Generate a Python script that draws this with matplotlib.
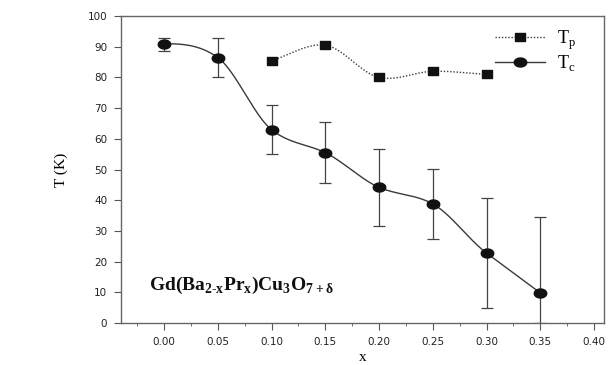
import numpy as np
import matplotlib.pyplot as plt
from matplotlib.ticker import MultipleLocator

plt.rcParams['font.family'] = ['Liberation Serif', 'DejaVu Serif']

x_tc = [0.00, 0.05, 0.10, 0.15, 0.20, 0.25, 0.30, 0.35]
tc = [91.0, 86.5, 63.0, 55.5, 44.2, 38.8, 22.8, 9.8]
tc_lo = [88.5, 80.0, 55.0, 45.6, 31.6, 27.4, 4.9, 0.0]
tc_hi = [93.0, 93.0, 71.0, 65.5, 56.7, 50.3, 40.7, 34.6]

x_tp = [0.10, 0.15, 0.20, 0.25, 0.30]
tp = [85.5, 90.5, 80.0, 82.0, 81.0]


def smooth(xs, ys, flat_start=False, tension=0.9, n=300):
    # cardinal cubic used only to draw the connecting curve
    xs = np.asarray(xs, float)
    ys = np.asarray(ys, float)
    h = np.diff(xs)
    d = np.diff(ys) / h
    m = np.zeros_like(ys)
    m[1:-1] = tension * (ys[2:] - ys[:-2]) / (xs[2:] - xs[:-2])
    m[0] = 0.0 if flat_start else d[0]
    m[-1] = d[-1]
    xx = np.linspace(xs[0], xs[-1], n)
    idx = np.clip(np.searchsorted(xs, xx) - 1, 0, len(h) - 1)
    t = (xx - xs[idx]) / h[idx]
    h00 = 2 * t**3 - 3 * t**2 + 1
    h10 = t**3 - 2 * t**2 + t
    h01 = -2 * t**3 + 3 * t**2
    h11 = t**3 - t**2
    yy = h00 * ys[idx] + h10 * h[idx] * m[idx] + h01 * ys[idx + 1] + h11 * h[idx] * m[idx + 1]
    return xx, yy


# slightly flattened markers, like the scanned figure
th = np.linspace(0, 2 * np.pi, 40)
oval = np.column_stack([np.cos(th), 0.72 * np.sin(th)])
rect = [(-1, -0.72), (1, -0.72), (1, 0.72), (-1, 0.72), (-1, -0.72)]

fig = plt.figure(figsize=(6.08, 3.65), dpi=100)
ax = fig.add_axes([0.199, 0.115, 0.794, 0.841])

col = '#111111'
lcol = '#3a3a3a'
dots = (0, (1.0, 1.3))

sx, sy = smooth(x_tc, tc, flat_start=True)
ax.plot(sx, sy, color=lcol, lw=1.0)
yerr = [np.array(tc) - np.array(tc_lo), np.array(tc_hi) - np.array(tc)]
ax.errorbar(x_tc, tc, yerr=yerr, fmt='none', ecolor='#444444', elinewidth=0.9, capsize=4.5, capthick=0.9)
ax.plot(x_tc, tc, ls='none', marker=oval, color=col, ms=9)

px, py = smooth(x_tp, tp)
ax.plot(px, py, color=lcol, lw=1.0, ls=dots)
ax.plot(x_tp, tp, ls='none', marker=rect, color=col, ms=7.5)

# legend entries
ax.plot([], [], color=lcol, lw=1.0, ls=dots, marker=rect, mfc=col, mec=col, ms=7.5, label='T$_\\mathregular{p}$')
ax.plot([], [], color=lcol, lw=1.0, marker=oval, mfc=col, mec=col, ms=9, label='T$_\\mathregular{c}$')
ax.legend(loc='upper left', frameon=False, fontsize=13, handlelength=2.8, handletextpad=0.65,
          borderpad=0, borderaxespad=0, bbox_to_anchor=(0.774, 0.96), labelspacing=0.1)

ax.text(-0.014, 12.4, 'Gd(Ba$_\\mathregular{2\u2010x}$Pr$_\\mathregular{x}$)Cu$_\\mathregular{3}$O$_\\mathregular{7+\\delta}$',
        fontsize=14, fontweight='bold', va='center', ha='left', color=col)

ax.set_xlim(-0.04, 0.409)
ax.set_ylim(0, 100)
ax.xaxis.set_minor_locator(MultipleLocator(0.025))
ax.yaxis.set_major_locator(MultipleLocator(10))
ax.set_xticks(np.arange(0, 0.401, 0.05))
ax.set_xticklabels([f'{v:.2f}' for v in np.arange(0, 0.401, 0.05)])
ax.tick_params(which='both', direction='out', top=False, right=False, color='#555555',
               labelsize=7.5, labelcolor='#222222', pad=5)
ax.tick_params(which='major', length=5)
ax.tick_params(which='minor', length=2.5)
for lab in ax.get_xticklabels() + ax.get_yticklabels():
    lab.set_family('DejaVu Sans')
for s in ax.spines.values():
    s.set_color('#666666')
    s.set_linewidth(1.0)

ax.set_xlabel('x', fontsize=11, labelpad=3)
ax.set_ylabel('T (K)', fontsize=11, labelpad=14)

fig.savefig('out.png', dpi=100, facecolor='white')
